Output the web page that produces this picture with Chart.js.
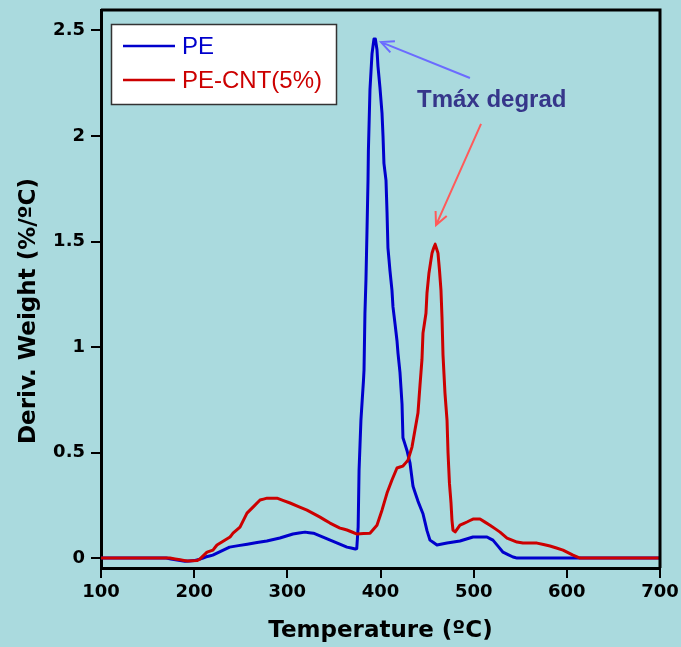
<!DOCTYPE html>
<html>
<head>
<meta charset="utf-8">
<script src="https://cdn.jsdelivr.net/npm/chart.js@4.4.1/dist/chart.umd.min.js"></script>
<style>
  html, body { margin: 0; padding: 0; background: #aadade; }
  canvas { display: block; }
</style>
</head>
<body>
<canvas id="dtg" width="681" height="647"></canvas>
<script>
// ============================================================
// DTG curves — PE vs PE-CNT(5%)
// ============================================================

const seriesLabels = ['PE', 'PE-CNT(5%)'];

const peTemp = [100, 170, 180, 190, 200, 206, 213, 220, 238, 257, 278, 292, 306, 319, 328, 346, 364, 373,
  374.5, 376, 377, 379, 381.7, 382.3, 382.6, 383.3, 384.4, 385.5, 386.6, 387, 388.7, 390.9, 393, 394.5,
  396.2, 397.3, 399.4, 401.6, 402.7, 403.7, 405.9, 407, 408, 410.2, 412.3, 413.4, 415.6, 417.7, 418.8,
  420.9, 423.1, 424.1, 428.4, 431.7, 434.9, 440.2, 445.6, 449.9, 453.1, 460.6, 471.4, 485.3, 499.3,
  514.3, 520.7, 531.5, 542.2, 546.5, 700];
const peDeriv = [0, 0, -0.008, -0.015, -0.012, -0.005, 0.006, 0.014, 0.052, 0.066, 0.081, 0.095, 0.114, 0.123, 0.118, 0.085, 0.052, 0.043,
  0.045, 0.147, 0.417, 0.654, 0.84, 0.89, 0.97, 1.16, 1.32, 1.55, 1.79, 1.93, 2.22, 2.39, 2.46, 2.46,
  2.41, 2.33, 2.23, 2.11, 2.0, 1.87, 1.79, 1.64, 1.47, 1.36, 1.27, 1.19, 1.11, 1.03, 0.97,
  0.88, 0.73, 0.57, 0.51, 0.45, 0.34, 0.27, 0.21, 0.13, 0.085, 0.062, 0.071, 0.081, 0.10,
  0.10, 0.085, 0.028, 0.005, 0, 0];

const cntTemp = [100, 174, 185, 193, 203, 206, 213.8, 220.2, 224.5, 238.5, 241.7, 249.2, 256.7, 270.7, 278.2,
  288.9, 302.9, 321.1, 335.1, 345.8, 356.5, 364, 374.8, 388.7, 396.2, 401.6, 407, 412.3, 417.7, 424.1,
  429.5, 433.8, 437, 440.2, 442.4, 444.5, 445.6, 448.8, 449.9, 452, 455.3, 458.5, 461.7, 463.3, 464.9,
  466, 467.1, 469.2, 471.4, 472.5, 474, 475.7, 476.7, 477.8, 480, 485.3, 492.8, 499.3, 506.8, 517.5,
  528.3, 535.8, 546.5, 552.9, 568, 581.9, 595.9, 606.6, 614.1, 700];
const cntDeriv = [0, 0, -0.008, -0.014, -0.012, -0.005, 0.028, 0.038, 0.062, 0.10, 0.118, 0.147, 0.213, 0.275, 0.284,
  0.284, 0.261, 0.227, 0.194, 0.166, 0.142, 0.133, 0.114, 0.118, 0.156, 0.227, 0.308, 0.37, 0.427, 0.436,
  0.464, 0.526, 0.607, 0.687, 0.82, 0.94, 1.066, 1.16, 1.256, 1.35, 1.445, 1.488, 1.445, 1.365, 1.27,
  1.142, 0.962, 0.782, 0.654, 0.498, 0.355, 0.26, 0.18, 0.133, 0.123, 0.156, 0.171, 0.185, 0.185, 0.156,
  0.123, 0.095, 0.076, 0.071, 0.071, 0.057, 0.038, 0.014, 0, 0];

const xTicks = [100, 200, 300, 400, 500, 600, 700];
const yTicks = [0, 0.5, 1, 1.5, 2, 2.5];

const toPoints = (xs, ys) => xs.map((x, i) => ({ x, y: ys[i] }));

const colors = {
  bg: '#aadade',
  pe: '#0000cc',
  cnt: '#cc0000',
  axis: '#000000',
  note: '#36368a',
  arrowPe: '#6b6bff',
  arrowCnt: '#ff5a5a',
};

// page background
const bgPlugin = {
  id: 'bg',
  beforeDraw(chart) {
    const { ctx, width, height } = chart;
    ctx.save();
    ctx.fillStyle = colors.bg;
    ctx.fillRect(0, 0, width, height);
    ctx.restore();
  }
};

// closes the plot box on top and right
const framePlugin = {
  id: 'frame',
  afterDraw(chart) {
    const { ctx, chartArea: a } = chart;
    ctx.save();
    ctx.strokeStyle = colors.axis;
    ctx.lineWidth = 3;
    ctx.beginPath();
    ctx.moveTo(a.left, a.top);
    ctx.lineTo(a.right, a.top);
    ctx.lineTo(a.right, a.bottom);
    ctx.stroke();
    ctx.restore();
  }
};

// boxed legend in the upper left corner of the plot
const boxLegend = {
  id: 'boxLegend',
  afterDraw(chart) {
    const { ctx } = chart;
    ctx.save();
    ctx.fillStyle = '#ffffff';
    ctx.strokeStyle = '#333333';
    ctx.lineWidth = 1.5;
    ctx.fillRect(111.5, 24.5, 225, 80);
    ctx.strokeRect(111.5, 24.5, 225, 80);
    ctx.font = '24px "Liberation Sans", Arial, sans-serif';
    ctx.textBaseline = 'middle';
    chart.data.datasets.forEach((ds, i) => {
      const y = 46 + i * 34;
      ctx.strokeStyle = ds.borderColor;
      ctx.lineWidth = 2.5;
      ctx.beginPath();
      ctx.moveTo(123, y);
      ctx.lineTo(175, y);
      ctx.stroke();
      ctx.fillStyle = ds.borderColor;
      ctx.fillText(ds.label, 182, y + 1);
    });
    ctx.restore();
  }
};

// "Tmáx degrad" note with two arrows to the peaks
function arrow(ctx, x1, y1, x2, y2, color) {
  const ang = Math.atan2(y2 - y1, x2 - x1);
  const len = 14;
  ctx.strokeStyle = color;
  ctx.lineWidth = 2;
  ctx.beginPath();
  ctx.moveTo(x1, y1);
  ctx.lineTo(x2, y2);
  ctx.moveTo(x2 - len * Math.cos(ang - 0.45), y2 - len * Math.sin(ang - 0.45));
  ctx.lineTo(x2, y2);
  ctx.lineTo(x2 - len * Math.cos(ang + 0.45), y2 - len * Math.sin(ang + 0.45));
  ctx.stroke();
}

const notePlugin = {
  id: 'note',
  afterDatasetsDraw(chart, args, opts) {
    const { ctx, scales: { x, y } } = chart;
    ctx.save();
    opts.arrows.forEach(a => {
      arrow(ctx, x.getPixelForValue(a.from[0]), y.getPixelForValue(a.from[1]),
        x.getPixelForValue(a.to[0]), y.getPixelForValue(a.to[1]), a.color);
    });
    ctx.fillStyle = colors.note;
    ctx.font = 'bold 24px "Liberation Sans", Arial, sans-serif';
    ctx.textBaseline = 'alphabetic';
    ctx.fillText(opts.text, x.getPixelForValue(opts.at[0]), y.getPixelForValue(opts.at[1]));
    ctx.restore();
  }
};

// rotated y title, sits a bit below the plot centre like the original
const yTitlePlugin = {
  id: 'yTitle',
  afterDraw(chart, args, opts) {
    const { ctx } = chart;
    ctx.save();
    ctx.translate(29, 311);
    ctx.rotate(-Math.PI / 2);
    ctx.font = 'bold 23px "DejaVu Sans", sans-serif';
    ctx.fillStyle = colors.axis;
    ctx.textAlign = 'center';
    ctx.textBaseline = 'middle';
    ctx.fillText(opts.text, 0, 0);
    ctx.restore();
  }
};

// no extra room for tick labels at the ends, the plot box is fixed
const noEdgePadding = s => {
  s.paddingTop = 0;
  s.paddingBottom = 0;
  s.paddingLeft = 0;
  s.paddingRight = 0;
};

const tickFont = { family: '"DejaVu Sans", sans-serif', size: 18, weight: 'bold' };

// tiny tension keeps chart.js off its fast path, which leaves spikes on steep parts
const curveStyle = { borderWidth: 3, borderJoinStyle: 'round', pointRadius: 0, tension: 0.001 };

new Chart(document.getElementById('dtg'), {
  type: 'line',
  data: {
    datasets: [
      {
        label: seriesLabels[0],
        data: toPoints(peTemp, peDeriv),
        borderColor: colors.pe,
        ...curveStyle,
        order: 1,
      },
      {
        label: seriesLabels[1],
        data: toPoints(cntTemp, cntDeriv),
        borderColor: colors.cnt,
        ...curveStyle,
        order: 0,
      }
    ]
  },
  options: {
    responsive: false,
    animation: false,
    layout: { padding: { top: 10, right: 21, left: 0, bottom: 0 } },
    scales: {
      x: {
        type: 'linear',
        min: 100,
        max: 700,
        afterFit: s => { s.height = 79; noEdgePadding(s); },
        afterBuildTicks: s => { s.ticks = xTicks.map(v => ({ value: v })); },
        grid: { drawOnChartArea: false, drawTicks: true, tickLength: 10, color: colors.axis, lineWidth: 2 },
        border: { display: true, color: colors.axis, width: 3 },
        ticks: { font: tickFont, color: colors.axis, padding: 4, maxRotation: 0, callback: v => String(v) },
        title: {
          display: true,
          text: 'Temperature (ºC)',
          color: colors.axis,
          font: { family: '"DejaVu Sans", sans-serif', size: 23, weight: 'bold' },
          padding: { top: 0, bottom: 2 },
        },
      },
      y: {
        type: 'linear',
        min: -0.047,
        max: 2.597,
        afterFit: s => { s.width = 101; noEdgePadding(s); },
        afterBuildTicks: s => { s.ticks = yTicks.map(v => ({ value: v })); },
        grid: { drawOnChartArea: false, drawTicks: true, tickLength: 10, color: colors.axis, lineWidth: 2 },
        border: { display: true, color: colors.axis, width: 3 },
        ticks: { font: tickFont, color: colors.axis, padding: 6, callback: v => String(v) },
      }
    },
    plugins: {
      legend: { display: false },
      tooltip: { enabled: false },
      yTitle: { text: 'Deriv. Weight (%/ºC)' },
      note: {
        text: 'Tmáx degrad',
        at: [439.2, 2.137],
        arrows: [
          { from: [496, 2.275], to: [400.5, 2.445], color: colors.arrowPe },
          { from: [507.9, 2.057], to: [459.6, 1.578], color: colors.arrowCnt },
        ]
      }
    }
  },
  plugins: [bgPlugin, framePlugin, boxLegend, notePlugin, yTitlePlugin]
});
</script>
</body>
</html>
